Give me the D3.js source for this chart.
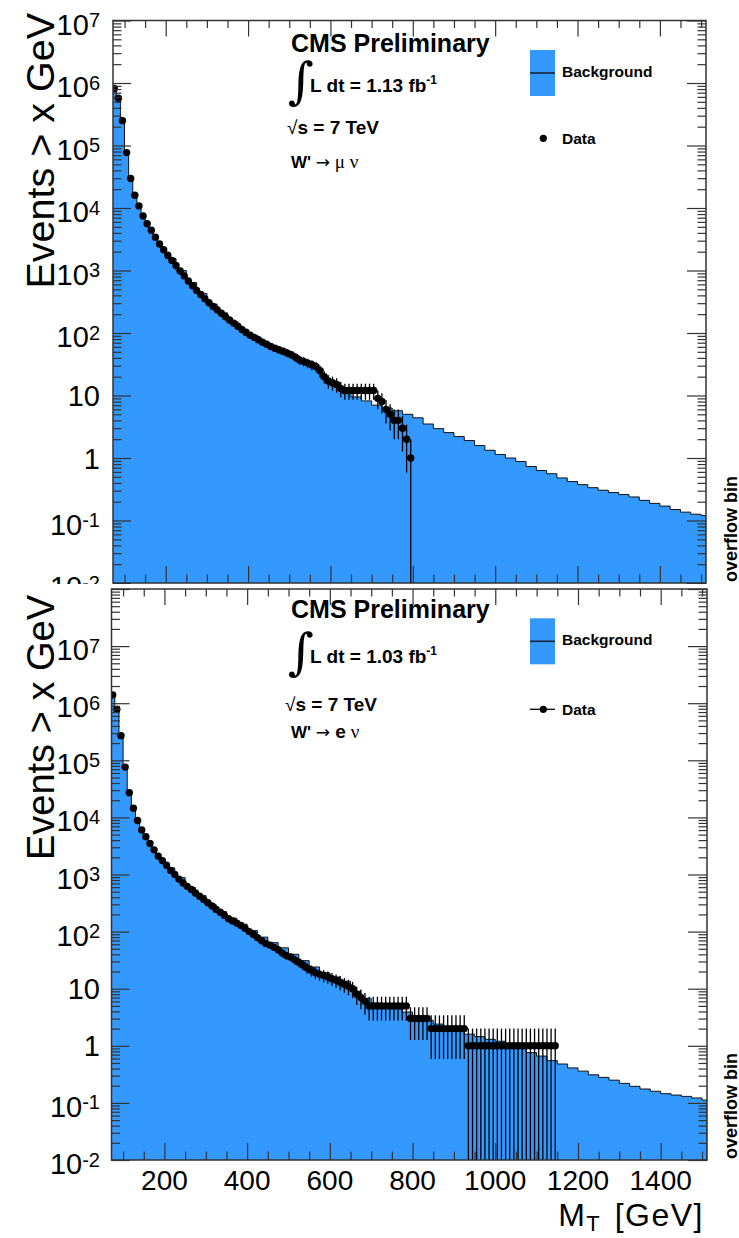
<!DOCTYPE html>
<html><head><meta charset="utf-8">
<script src="https://cdn.jsdelivr.net/npm/d3@7"></script>
<style>
body{margin:0;background:#fff}
svg{display:block}
text{font-family:"Liberation Sans",Arial,Helvetica,sans-serif}
</style>
</head><body>
<svg id="chart" width="739" height="1238"></svg>
<script>
// ---------------- DATA ----------------
const xDomain = [72, 1512];
const xMajorTicks = [200, 400, 600, 800, 1000, 1200, 1400];
const xMinorTicks = [100,150,250,300,350,450,500,550,650,700,750,850,900,950,1050,1100,1150,1250,1300,1350,1450,1500];
const xTickLabels = ["200", "400", "600", "800", "1000", "1200", "1400"];

// background histogram bin edges (GeV) – shared by both panels
const bgEdges = [70,80,90,100,110,120,130,140,150,160,170,180,190,200,225,250,275,300,325,350,375,400,425,450,475,500,525,550,575,600,625,650,675,700,725,750,775,800,825,850,875,900,925,950,975,1000,1025,1050,1075,1100,1125,1150,1175,1200,1225,1250,1275,1300,1325,1350,1375,1400,1425,1450,1475,1500,1512];

// W' -> mu nu : background (events > x)
const muBackground = [
  780000,550000,240000,75000,29000,15500,10500,7300,5500,4300,3300,2600,2100,
  1550,1000,640,430,290,210,152,115,90,72,
  60,51,43,35,28,19,14.5,11,9.5,8.2,
  7.0,6.3,5.7,5.0,4.4,3.5,2.95,2.55,2.2,1.9,
  1.58,1.33,1.14,1.0,0.88,0.73,0.63,0.56,0.48,0.42,
  0.375,0.335,0.305,0.28,0.26,0.238,0.21,0.188,0.17,0.15,
  0.136,0.126,0.12];

// W' -> e nu : background
const eBackground = [
  1300000,750000,260000,73000,26000,14000,8600,5900,4500,3400,2650,2050,1700,
  1300,880,590,430,300,225,172,135,104,80,
  64,52,40,31,24,19,16,13.5,9,6.8,
  5.6,5.0,4.5,3.9,3.3,2.8,2.4,2.1,1.85,1.6,
  1.45,1.3,1.2,1.05,0.92,0.76,0.66,0.55,0.48,0.41,
  0.36,0.31,0.28,0.25,0.22,0.195,0.175,0.16,0.145,0.137,
  0.13,0.122,0.112];

// data points: bin centres (GeV), 10 GeV bins starting at 75
const muDataMT = d3.range(75, 800, 10);
const muData = [
  820000,570000,250000,77000,29600,16000,10800,7450,5600,4400,
  3400,2650,2150,1750,1450,1200,980,820,680,570,
  480,414,353,305,266,235,207,182,161,144,
  128,114,102,92,85,78,71,66,61,57,
  54,51,48,45,41,37,35,33,31,29,
  25,20,17,16,15,13,12,12,12,12,
  12,12,12,12,9,8,6,5,4,4,
  3,2,1];

const eDataMT = d3.range(75, 1150, 10);
const eData = [
  1400000,780000,270000,76000,27000,14500,8800,6000,4600,3500,
  2700,2100,1750,1450,1180,1000,830,710,620,545,
  475,415,365,320,280,245,218,192,168,153,
  141,128,114,100,89,78,69,62,58,53,
  48,42,38,36,32,29,26,23,21,19,
  18,17,16,15,14,13,12,11,10,8,
  7,6,5,5,5,5,5,5,5,5,
  5,5,3,3,3,3,3,2,2,2,
  2,2,2,2,2,2,1,1,1,1,
  1,1,1,1,1,1,1,1,1,1,
  1,1,1,1,1,1,1,1];

// ---------------- DRAWING ----------------
const svg = d3.select("#chart");
const BLUE = "#3399ff";
const AX = "#333";

function drawPanel(p) {
  const g = svg.append("g");
  const xs = d3.scaleLinear().domain(xDomain).range([p.x0, p.x1]);
  const ys = d3.scaleLog().domain([p.ymin, p.ymax]).range([p.y1, p.y0]);
  const clipId = "clip" + p.id;
  g.append("clipPath").attr("id", clipId).append("rect")
    .attr("x", p.x0).attr("y", p.y0).attr("width", p.x1 - p.x0).attr("height", p.y1 - p.y0);
  const pg = g.append("g").attr("clip-path", `url(#${clipId})`);

  // background histogram
  const pts = [];
  p.bg.forEach((v, i) => { pts.push([bgEdges[i], v]); pts.push([bgEdges[i + 1], v]); });
  pg.append("path").datum(pts)
    .attr("d", d3.area().x(d => xs(d[0])).y0(p.y1).y1(d => ys(d[1])))
    .attr("fill", BLUE);
  const linePts = pts.concat([[bgEdges[bgEdges.length - 1], p.ymin]]);
  pg.append("path").datum(linePts)
    .attr("d", d3.line().x(d => xs(d[0])).y(d => ys(d[1])))
    .attr("fill", "none").attr("stroke", "#111").attr("stroke-width", 1.0);

  // data error bars and markers
  const dd = p.dataMT.map((m, i) => ({ m, v: p.data[i] }));
  pg.selectAll("line.err").data(dd).enter().append("line")
    .attr("x1", d => xs(d.m)).attr("x2", d => xs(d.m))
    .attr("y1", d => ys(d.v + Math.sqrt(d.v)))
    .attr("y2", d => (d.v - Math.sqrt(d.v)) > 0 ? ys(d.v - Math.sqrt(d.v)) : p.y1)
    .attr("stroke", "#000").attr("stroke-width", 1.3);
  pg.selectAll("circle.pt").data(dd).enter().append("circle")
    .attr("cx", d => xs(d.m)).attr("cy", d => ys(d.v)).attr("r", 3.7).attr("fill", "#000");

  // axes (ticks only)
  const yMajor = d3.range(Math.log10(p.ymin), Math.log10(p.ymax) + 1).map(k => Math.pow(10, k));
  const yMinor = [];
  d3.range(Math.log10(p.ymin), Math.log10(p.ymax)).forEach(k => {
    for (let m = 2; m <= 9; m++) yMinor.push(m * Math.pow(10, k));
  });
  const style = sel => {
    sel.select(".domain").remove();
    sel.selectAll("line").attr("stroke", AX).attr("stroke-width", 1.2);
    sel.selectAll("text").remove();
  };
  g.append("g").attr("transform", `translate(${p.x0},0)`).call(d3.axisLeft(ys).tickValues(yMajor).tickSize(-18).tickFormat("")).call(style);
  g.append("g").attr("transform", `translate(${p.x0},0)`).call(d3.axisLeft(ys).tickValues(yMinor).tickSize(-8.5).tickFormat("")).call(style);
  g.append("g").attr("transform", `translate(${p.x1},0)`).call(d3.axisRight(ys).tickValues(yMajor).tickSize(-19).tickFormat("")).call(style);
  g.append("g").attr("transform", `translate(${p.x1},0)`).call(d3.axisRight(ys).tickValues(yMinor).tickSize(-8.5).tickFormat("")).call(style);
  g.append("g").attr("transform", `translate(0,${p.y1})`).call(d3.axisBottom(xs).tickValues(xMajorTicks).tickSize(-17).tickFormat("")).call(style);
  g.append("g").attr("transform", `translate(0,${p.y1})`).call(d3.axisBottom(xs).tickValues(xMinorTicks).tickSize(-8.5).tickFormat("")).call(style);
  g.append("g").attr("transform", `translate(0,${p.y0})`).call(d3.axisTop(xs).tickValues(xMajorTicks).tickSize(-16).tickFormat("")).call(style);
  g.append("g").attr("transform", `translate(0,${p.y0})`).call(d3.axisTop(xs).tickValues(xMinorTicks).tickSize(-7.5).tickFormat("")).call(style);

  // frame
  g.append("rect").attr("x", p.x0).attr("y", p.y0).attr("width", p.x1 - p.x0).attr("height", p.y1 - p.y0)
    .attr("fill", "none").attr("stroke", AX).attr("stroke-width", 1.5);

  // y tick labels
  const labelExps = d3.range(Math.log10(p.ymin), p.labelMaxExp + 1);
  labelExps.forEach(k => {
    const yy = ys(Math.pow(10, k));
    const t = g.append("text").attr("x", 100).attr("text-anchor", "end").attr("font-size", 29).attr("fill", "#000");
    if (k === 0) t.attr("y", yy + 10.5).text("1");
    else if (k === 1) t.attr("y", yy + 10.5).text("10");
    else {
      t.attr("y", yy + 14);
      t.append("tspan").text("10");
      t.append("tspan").attr("font-size", 20).attr("dy", -7.5).text(k < 0 ? "-" + (-k) : String(k));
    }
  });

  // y title
  g.append("text").attr("transform", `translate(53.5,${p.titleTop}) rotate(-90)`)
    .attr("text-anchor", "end").attr("font-size", p.titleSize).attr("fill", "#000").text("Events > x GeV");

  // overflow bin label
  g.append("text").attr("transform", `translate(736.5,${p.y1 - 1}) rotate(-90)`)
    .attr("text-anchor", "start").attr("font-size", 18).attr("font-weight", "bold").attr("fill", "#000").text("overflow bin");

  // annotations
  const ann = g.append("g").attr("fill", "#000").attr("font-weight", "bold");
  ann.append("text").attr("x", 291).attr("y", p.cmsY).attr("font-size", 25).text("CMS Preliminary");
  ann.append("text").attr("x", 288).attr("y", p.intY).attr("font-size", 50).attr("font-weight", "normal")
    .style("font-family", "'DejaVu Serif'").text("∫");
  const lt = ann.append("text").attr("x", 310).attr("y", p.lumiY).attr("font-size", 19);
  lt.append("tspan").text("L dt = " + p.lumi + " fb");
  lt.append("tspan").attr("font-size", 12).attr("dy", -8).text("-1");
  const st = ann.append("text").attr("x", p.sqrtX).attr("y", p.sqrtY).attr("font-size", 19);
  st.append("tspan").attr("font-weight", "normal").text("√");
  st.append("tspan").text("s = 7 TeV");
  const wt = ann.append("text").attr("x", 291).attr("y", p.wY).attr("font-size", 17);
  wt.append("tspan").text("W' ");
  wt.append("tspan").attr("font-weight", "normal").style("font-family", "'DejaVu Sans'").attr("font-size", 17).text("→");
  wt.append("tspan").attr("font-weight", p.lepBold ? "bold" : "normal")
    .style("font-family", p.lepBold ? "'Liberation Sans'" : "'Liberation Serif'").attr("font-size", 19).text(" " + p.lepton);
  wt.append("tspan").attr("font-weight", "normal").style("font-family", "'Liberation Serif'").attr("font-size", 19).text(" ν");

  // legend
  const lg = g.append("g");
  lg.append("rect").attr("x", 530).attr("y", p.legBoxY).attr("width", 25).attr("height", 46).attr("fill", BLUE);
  lg.append("line").attr("x1", 530).attr("x2", 555).attr("y1", p.legBoxY + 23).attr("y2", p.legBoxY + 23)
    .attr("stroke", "#152535").attr("stroke-width", 1.6);
  lg.append("text").attr("x", 562).attr("y", p.legBoxY + 27).attr("font-size", 15.5).attr("font-weight", "bold").text("Background");
  if (p.dataLine) {
    lg.append("line").attr("x1", 530).attr("x2", 555).attr("y1", p.legDataY).attr("y2", p.legDataY)
      .attr("stroke", "#000").attr("stroke-width", 1.3);
  }
  lg.append("circle").attr("cx", 543.3).attr("cy", p.legDataY).attr("r", 3.6).attr("fill", "#000");
  lg.append("text").attr("x", 562).attr("y", p.legDataY + 6).attr("font-size", 15.5).attr("font-weight", "bold").text("Data");

  return { xs, ys };
}

// top panel (muon)
drawPanel({
  id: "mu", x0: 113, x1: 706, y0: 20.5, y1: 583, ymin: 1e-2, ymax: 1e7, labelMaxExp: 7,
  bg: muBackground, dataMT: muDataMT, data: muData, titleTop: 13, titleSize: 39.5,
  cmsY: 51.7, intY: 98, lumiY: 91.7, lumi: "1.13", sqrtX: 287, sqrtY: 134, wY: 168.3, lepton: "μ", lepBold: false,
  legBoxY: 50, legDataY: 138.3, dataLine: false
});

// white pad of bottom panel covers the lower edge of the top pad
svg.append("rect").attr("x", 0).attr("y", 584).attr("width", 739).attr("height", 654).attr("fill", "#fff");

// bottom panel (electron)
const bot = drawPanel({
  id: "e", x0: 111.5, x1: 707, y0: 589, y1: 1160, ymin: 1e-2, ymax: 1e8, labelMaxExp: 7,
  bg: eBackground, dataMT: eDataMT, data: eData, titleTop: 595, titleSize: 38,
  cmsY: 618, intY: 669, lumiY: 663.3, lumi: "1.03", sqrtX: 285, sqrtY: 710.7, wY: 738, lepton: "e", lepBold: true,
  legBoxY: 618.3, legDataY: 709.3, dataLine: true
});

// x tick labels (bottom panel)
const xl = svg.append("g").attr("font-size", 28).attr("fill", "#000").attr("text-anchor", "middle");
xMajorTicks.forEach((v, i) => {
  xl.append("text").attr("x", bot.xs(v)).attr("y", 1190).text(xTickLabels[i]);
});

// x axis title
const xt = svg.append("text").attr("x", 704).attr("y", 1226).attr("text-anchor", "end")
  .attr("font-size", 32).attr("letter-spacing", 1.5).attr("fill", "#000");
xt.append("tspan").text("M");
xt.append("tspan").attr("font-size", 22).attr("dy", 5).text("T");
xt.append("tspan").attr("dy", -5).attr("dx", 3).text(" [GeV]");
</script>
</body></html>
